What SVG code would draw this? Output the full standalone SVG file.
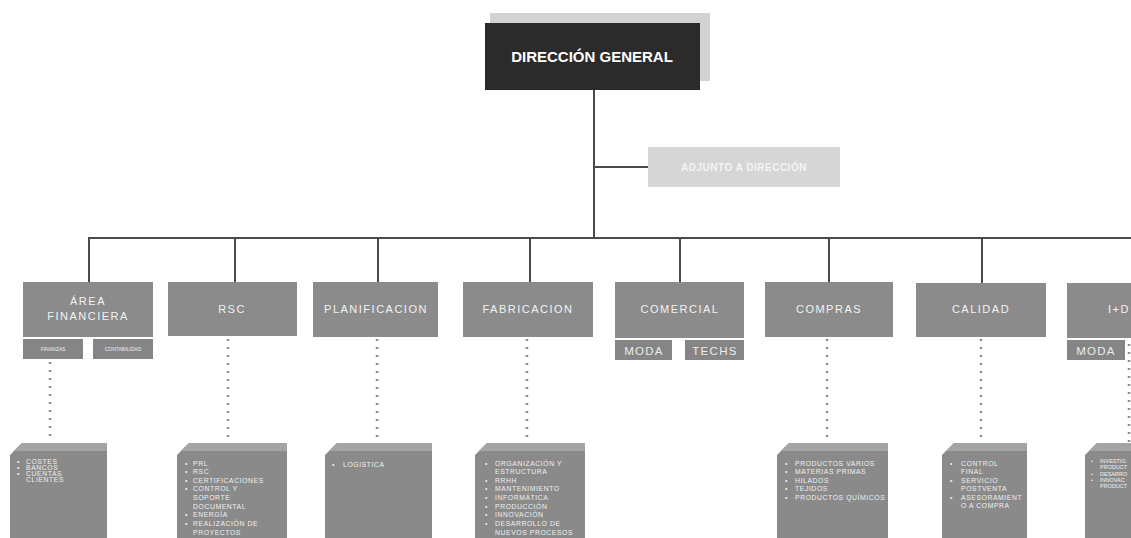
<svg xmlns="http://www.w3.org/2000/svg" width="1131" height="538" viewBox="0 0 1131 538">
<style>
.bg{fill:#ffffff}
.dept{fill:#8b8b8b}
.sub{fill:#858585}
.dt{font-family:"Liberation Sans",Arial,sans-serif;font-size:11px;fill:#f2f2f2;letter-spacing:1.5px;text-anchor:middle}
.st{font-family:"Liberation Sans",Arial,sans-serif;font-size:11.5px;fill:#ececec;letter-spacing:1.3px;text-anchor:middle}
.tiny{font-family:"Liberation Sans",Arial,sans-serif;font-size:5px;fill:#eeeeee;text-anchor:middle}
.list{fill:#8a8a8a}
.top{fill:#a4a4a4}
.lt{font-family:"Liberation Sans",Arial,sans-serif;font-size:6.8px;fill:#f0f0f0;letter-spacing:0.6px}
.ls{font-family:"Liberation Sans",Arial,sans-serif;font-size:5.5px;fill:#f0f0f0}
.conn{stroke:#4a4a4a;stroke-width:2;fill:none}
.dot{stroke:#8c8c8c;stroke-width:2.5;stroke-dasharray:2 6;fill:none}
</style>
<rect class="bg" x="0" y="0" width="1131" height="538"/>

<g id="connectors">
<line class="conn" x1="594" y1="90" x2="594" y2="238"/>
<line class="conn" x1="594" y1="167" x2="648" y2="167"/>
<line class="conn" x1="88" y1="238" x2="1131" y2="238"/>
<line class="conn" x1="89" y1="238" x2="89" y2="283"/>
<line class="conn" x1="235" y1="238" x2="235" y2="283"/>
<line class="conn" x1="378" y1="238" x2="378" y2="283"/>
<line class="conn" x1="530" y1="238" x2="530" y2="283"/>
<line class="conn" x1="680" y1="238" x2="680" y2="283"/>
<line class="conn" x1="829" y1="238" x2="829" y2="283"/>
<line class="conn" x1="982" y1="238" x2="982" y2="283"/>
<line class="dot" x1="50" y1="362" x2="50" y2="442"/>
<line class="dot" x1="228" y1="339" x2="228" y2="442"/>
<line class="dot" x1="377" y1="339" x2="377" y2="442"/>
<line class="dot" x1="527" y1="339" x2="527" y2="442"/>
<line class="dot" x1="827" y1="339" x2="827" y2="442"/>
<line class="dot" x1="981" y1="339" x2="981" y2="442"/>
<line class="dot" x1="1129" y1="344" x2="1129" y2="442"/>
</g>

<g id="direccion-general">
<rect x="490" y="13" width="220" height="68" fill="#d2d2d2"/>
<rect x="485" y="23" width="215" height="67" fill="#2b2b2b"/>
<text x="592" y="62" font-family="'Liberation Sans',Arial,sans-serif" font-size="15" font-weight="bold" fill="#ffffff" text-anchor="middle">DIRECCIÓN GENERAL</text>
</g>

<g id="adjunto">
<rect x="648" y="147" width="192" height="40" fill="#d6d6d6"/>
<text x="744" y="171" font-family="'Liberation Sans',Arial,sans-serif" font-size="10" font-weight="bold" fill="#f4f4f4" text-anchor="middle" letter-spacing="0.5">ADJUNTO A DIRECCIÓN</text>
</g>

<g id="area-financiera">
<rect class="dept" x="23" y="282" width="130" height="55"/>
<text class="dt" x="88" y="305">ÁREA</text>
<text class="dt" x="88" y="320">FINANCIERA</text>
<rect class="sub" x="23" y="339" width="60" height="20"/>
<text class="tiny" x="53" y="351">FINANZAS</text>
<rect class="sub" x="93" y="339" width="60" height="20"/>
<text class="tiny" x="123" y="351">CONTABILIDAD</text>
</g>

<g id="rsc">
<rect class="dept" x="168" y="282" width="129" height="54"/>
<text class="dt" x="232" y="313">RSC</text>
</g>

<g id="planificacion">
<rect class="dept" x="313" y="282" width="125" height="55"/>
<text class="dt" x="376" y="313">PLANIFICACION</text>
</g>

<g id="fabricacion">
<rect class="dept" x="463" y="282" width="130" height="55"/>
<text class="dt" x="528" y="313">FABRICACION</text>
</g>

<g id="comercial">
<rect class="dept" x="615" y="282" width="129" height="56"/>
<text class="dt" x="680" y="313">COMERCIAL</text>
<rect class="sub" x="615" y="340" width="57" height="20"/>
<text class="st" x="644" y="355">MODA</text>
<rect class="sub" x="685" y="340" width="59" height="20"/>
<text class="st" x="715" y="355">TECHS</text>
</g>

<g id="compras">
<rect class="dept" x="765" y="282" width="128" height="55"/>
<text class="dt" x="829" y="313">COMPRAS</text>
</g>

<g id="calidad">
<rect class="dept" x="916" y="283" width="130" height="54"/>
<text class="dt" x="981" y="313">CALIDAD</text>
</g>

<g id="i-d">
<rect class="dept" x="1067" y="283" width="130" height="55"/>
<text class="dt" x="1119" y="313">I+D</text>
<rect class="sub" x="1067" y="340" width="58" height="20"/>
<text class="st" x="1096" y="355">MODA</text>
<rect class="sub" x="1134" y="340" width="58" height="20"/>
</g>

<g id="lista-financiera">
<polygon class="list" points="22,443 107,443 107,538 10,538 10,455"/>
<polygon class="top" points="22,443 107,443 107,451 14,451"/>
<text class="lt" x="17" y="464">•</text><text class="lt" x="26" y="464">COSTES</text>
<text class="lt" x="17" y="470">•</text><text class="lt" x="26" y="470">BANCOS</text>
<text class="lt" x="17" y="476">•</text><text class="lt" x="26" y="476">CUENTAS</text>
<text class="lt" x="26" y="482">CLIENTES</text>
</g>

<g id="lista-rsc">
<polygon class="list" points="189,443 287,443 287,538 177,538 177,455"/>
<polygon class="top" points="189,443 287,443 287,451 181,451"/>
<text class="lt" x="185" y="466">•</text><text class="lt" x="193" y="466">PRL</text>
<text class="lt" x="185" y="474">•</text><text class="lt" x="193" y="474">RSC</text>
<text class="lt" x="185" y="483">•</text><text class="lt" x="193" y="483">CERTIFICACIONES</text>
<text class="lt" x="185" y="491">•</text><text class="lt" x="193" y="491">CONTROL Y</text>
<text class="lt" x="193" y="500">SOPORTE</text>
<text class="lt" x="193" y="509">DOCUMENTAL</text>
<text class="lt" x="185" y="517">•</text><text class="lt" x="193" y="517">ENERGÍA</text>
<text class="lt" x="185" y="526">•</text><text class="lt" x="193" y="526">REALIZACIÓN DE</text>
<text class="lt" x="193" y="535">PROYECTOS</text>
</g>

<g id="lista-planificacion">
<polygon class="list" points="337,443 432,443 432,538 325,538 325,455"/>
<polygon class="top" points="337,443 432,443 432,451 329,451"/>
<text class="lt" x="332" y="467">•</text><text class="lt" x="343" y="467">LOGISTICA</text>
</g>

<g id="lista-fabricacion">
<polygon class="list" points="487,443 585,443 585,538 475,538 475,455"/>
<polygon class="top" points="487,443 585,443 585,451 479,451"/>
<text class="lt" x="485" y="466">•</text><text class="lt" x="495" y="466">ORGANIZACIÓN Y</text>
<text class="lt" x="495" y="474">ESTRUCTURA</text>
<text class="lt" x="485" y="483">•</text><text class="lt" x="495" y="483">RRHH</text>
<text class="lt" x="485" y="491">•</text><text class="lt" x="495" y="491">MANTENIMIENTO</text>
<text class="lt" x="485" y="500">•</text><text class="lt" x="495" y="500">INFORMÁTICA</text>
<text class="lt" x="485" y="509">•</text><text class="lt" x="495" y="509">PRODUCCIÓN</text>
<text class="lt" x="485" y="517">•</text><text class="lt" x="495" y="517">INNOVACIÓN</text>
<text class="lt" x="485" y="526">•</text><text class="lt" x="495" y="526">DESARROLLO DE</text>
<text class="lt" x="495" y="535">NUEVOS PROCESOS</text>
</g>

<g id="lista-compras">
<polygon class="list" points="789,443 888,443 888,538 777,538 777,455"/>
<polygon class="top" points="789,443 888,443 888,451 781,451"/>
<text class="lt" x="785" y="466">•</text><text class="lt" x="795" y="466">PRODUCTOS VARIOS</text>
<text class="lt" x="785" y="474">•</text><text class="lt" x="795" y="474">MATERIAS PRIMAS</text>
<text class="lt" x="785" y="483">•</text><text class="lt" x="795" y="483">HILADOS</text>
<text class="lt" x="785" y="491">•</text><text class="lt" x="795" y="491">TEJIDOS</text>
<text class="lt" x="785" y="500">•</text><text class="lt" x="795" y="500">PRODUCTOS QUÍMICOS</text>
</g>

<g id="lista-calidad">
<polygon class="list" points="954,443 1027,443 1027,538 942,538 942,455"/>
<polygon class="top" points="954,443 1027,443 1027,451 946,451"/>
<text class="lt" x="950" y="466">•</text><text class="lt" x="961" y="466">CONTROL</text>
<text class="lt" x="961" y="474">FINAL</text>
<text class="lt" x="950" y="483">•</text><text class="lt" x="961" y="483">SERVICIO</text>
<text class="lt" x="961" y="491">POSTVENTA</text>
<text class="lt" x="950" y="500">•</text><text class="lt" x="961" y="500">ASESORAMIENT</text>
<text class="lt" x="961" y="508">O A COMPRA</text>
</g>

<g id="lista-i-d">
<polygon class="list" points="1097,443 1190,443 1190,538 1085,538 1085,455"/>
<polygon class="top" points="1097,443 1190,443 1190,451 1089,451"/>
<text class="ls" x="1091" y="463">•</text><text class="ls" x="1100" y="463">INVESTIG</text>
<text class="ls" x="1100" y="469">PRODUCT</text>
<text class="ls" x="1091" y="476">•</text><text class="ls" x="1100" y="476">DESARRO</text>
<text class="ls" x="1091" y="482">•</text><text class="ls" x="1100" y="482">INNOVAC</text>
<text class="ls" x="1100" y="488">PRODUCT</text>
</g>
</svg>
